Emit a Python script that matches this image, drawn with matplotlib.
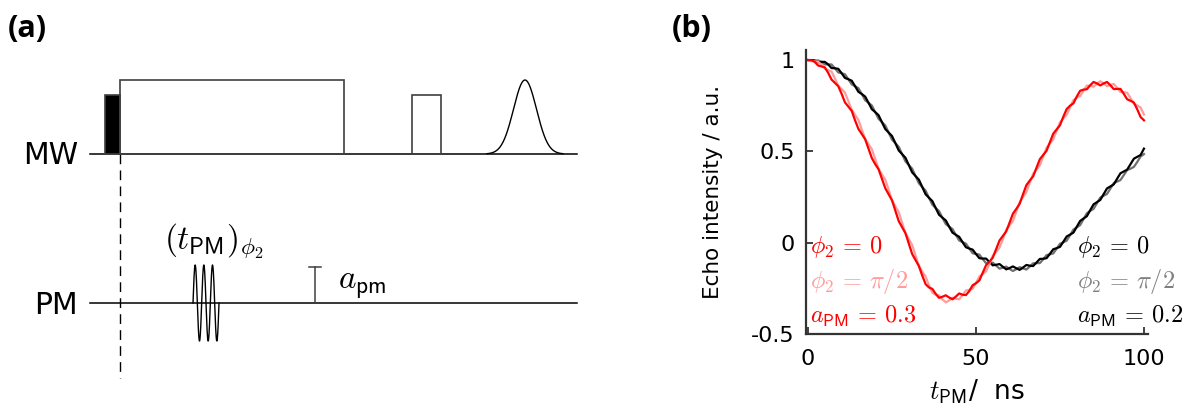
import matplotlib
matplotlib.use("Agg")
import matplotlib.pyplot as plt
import matplotlib.patches as mpatches
import numpy as np

plt.rcParams['mathtext.fontset'] = 'cm'
plt.rcParams['axes.unicode_minus'] = False
plt.rcParams['font.family'] = ['DejaVu Sans']

# ---------------- panel (b) data: echo intensity vs t_PM (ns) ----------------
t_pm = list(range(0, 101))

# a_PM = 0.3, phi2 = 0
red_phi0 = [
    1.000, 0.999, 0.990, 0.970, 0.965, 0.960, 0.930, 0.893, 0.875, 0.857,
    0.815, 0.768, 0.745, 0.722, 0.670, 0.623, 0.595, 0.567, 0.515, 0.463,
    0.430, 0.402, 0.350, 0.298, 0.265, 0.232, 0.175, 0.118, 0.085, 0.052,
    -0.005, -0.062, -0.095, -0.128, -0.180, -0.227, -0.245, -0.253, -0.280, -0.302,
    -0.296, -0.288, -0.300, -0.310, -0.295, -0.278, -0.285, -0.287, -0.265, -0.233,
    -0.222, -0.207, -0.165, -0.123, -0.105, -0.082, -0.035, 0.012, 0.037, 0.062,
    0.110, 0.159, 0.185, 0.213, 0.265, 0.315, 0.340, 0.363, 0.410, 0.457,
    0.480, 0.503, 0.550, 0.597, 0.620, 0.643, 0.690, 0.732, 0.750, 0.763,
    0.800, 0.832, 0.838, 0.840, 0.862, 0.880, 0.872, 0.861, 0.872, 0.880,
    0.862, 0.841, 0.842, 0.842, 0.815, 0.785, 0.777, 0.767, 0.730, 0.688,
    0.670,
]

# a_PM = 0.3, phi2 = pi/2
red_phi90 = [
    1.000, 0.994, 0.993, 0.991, 0.975, 0.952, 0.945, 0.937, 0.900, 0.860,
    0.842, 0.822, 0.775, 0.728, 0.700, 0.672, 0.620, 0.568, 0.540, 0.512,
    0.458, 0.404, 0.374, 0.344, 0.290, 0.233, 0.200, 0.167, 0.110, 0.053,
    0.020, -0.013, -0.070, -0.127, -0.158, -0.186, -0.233, -0.274, -0.285, -0.288,
    -0.310, -0.327, -0.316, -0.301, -0.307, -0.310, -0.287, -0.262, -0.258, -0.252,
    -0.220, -0.185, -0.172, -0.157, -0.115, -0.071, -0.050, -0.027, 0.020, 0.069,
    0.094, 0.120, 0.170, 0.222, 0.250, 0.278, 0.328, 0.377, 0.400, 0.424,
    0.472, 0.520, 0.543, 0.566, 0.613, 0.659, 0.680, 0.700, 0.742, 0.781,
    0.794, 0.803, 0.833, 0.860, 0.859, 0.854, 0.870, 0.884, 0.872, 0.857,
    0.864, 0.869, 0.848, 0.825, 0.824, 0.821, 0.792, 0.761, 0.752, 0.740,
    0.702,
]

# a_PM = 0.2, phi2 = 0
black_phi0 = [
    1.000, 1.000, 0.997, 0.988, 0.990, 0.990, 0.976, 0.956, 0.955, 0.952,
    0.928, 0.902, 0.895, 0.887, 0.857, 0.826, 0.814, 0.800, 0.766, 0.731,
    0.715, 0.698, 0.660, 0.622, 0.603, 0.584, 0.545, 0.505, 0.485, 0.465,
    0.425, 0.385, 0.365, 0.345, 0.305, 0.265, 0.246, 0.228, 0.190, 0.153,
    0.137, 0.122, 0.088, 0.055, 0.043, 0.032, 0.003, -0.025, -0.032, -0.038,
    -0.062, -0.085, -0.087, -0.087, -0.106, -0.124, -0.121, -0.117, -0.132, -0.146,
    -0.139, -0.130, -0.140, -0.149, -0.136, -0.122, -0.126, -0.128, -0.109, -0.089,
    -0.088, -0.085, -0.061, -0.036, -0.030, -0.023, 0.005, 0.034, 0.044, 0.055,
    0.087, 0.119, 0.132, 0.145, 0.178, 0.210, 0.222, 0.234, 0.266, 0.297,
    0.308, 0.319, 0.350, 0.380, 0.390, 0.400, 0.430, 0.460, 0.470, 0.480,
    0.515,
]

# a_PM = 0.2, phi2 = pi/2
gray_phi90 = [
    1.000, 0.997, 0.997, 0.998, 0.990, 0.976, 0.976, 0.976, 0.955, 0.932,
    0.928, 0.922, 0.895, 0.867, 0.857, 0.846, 0.814, 0.780, 0.766, 0.751,
    0.715, 0.678, 0.660, 0.642, 0.603, 0.564, 0.545, 0.525, 0.485, 0.445,
    0.425, 0.405, 0.365, 0.325, 0.305, 0.285, 0.246, 0.208, 0.190, 0.173,
    0.137, 0.102, 0.088, 0.075, 0.043, 0.012, 0.003, -0.005, -0.032, -0.058,
    -0.062, -0.065, -0.090, -0.112, -0.111, -0.109, -0.126, -0.142, -0.137, -0.131,
    -0.144, -0.155, -0.145, -0.134, -0.141, -0.147, -0.131, -0.113, -0.112, -0.112,
    -0.091, -0.068, -0.064, -0.059, -0.033, -0.006, 0.002, 0.011, 0.041, 0.072,
    0.084, 0.096, 0.129, 0.161, 0.174, 0.185, 0.216, 0.247, 0.257, 0.267,
    0.296, 0.326, 0.334, 0.343, 0.370, 0.398, 0.405, 0.415, 0.442, 0.472,
    0.485,
]

yticks = [-0.5, 0, 0.5, 1]
ytick_labels = ['-0.5', '0', '0.5', '1']
xticks = [0, 50, 100]

# ---------------- panel (a) data: pulse sequence schematic ----------------
# x in schematic units (left part of figure), amplitudes above each baseline
mw_pulse_start = [105, 120, 412]
mw_pulse_stop = [120, 344, 441]
mw_pulse_amp = [59, 74, 59]
mw_pulse_fill = ['black', 'none', 'none']
echo_center, echo_amp, echo_sigma = 525, 74, 11.5
pm_pulse_start, pm_pulse_stop, pm_amp, pm_cycles = 193, 219, 38, 3
marker_x, marker_amp = 315, 36
seq_start, seq_stop = 90, 577
trigger_x = 120

fig = plt.figure(figsize=(11.86, 4.09), dpi=100)

# ---------- (a) ----------
axa = fig.add_axes([0, 0, 600 / 1186, 1])
axa.set_xlim(0, 600)
axa.set_ylim(0, 409)
axa.axis('off')

mw_y = 255
pm_y = 106
axa.plot([seq_start, seq_stop], [mw_y, mw_y], color='black', lw=1.1)
axa.plot([seq_start, seq_stop], [pm_y, pm_y], color='black', lw=1.1)
for x0, x1, a, fc in zip(mw_pulse_start, mw_pulse_stop, mw_pulse_amp, mw_pulse_fill):
    axa.add_patch(mpatches.Rectangle((x0, mw_y), x1 - x0, a, facecolor=fc,
                                     edgecolor='#404040', lw=1.2, zorder=3))
xe = np.linspace(echo_center - 3.3 * echo_sigma, echo_center + 3.3 * echo_sigma, 200)
axa.plot(xe, mw_y + echo_amp * np.exp(-0.5 * ((xe - echo_center) / echo_sigma) ** 2),
         color='black', lw=1.0)

xs = np.linspace(pm_pulse_start, pm_pulse_stop, 300)
axa.plot(xs, pm_y + pm_amp * np.sin(2 * np.pi * pm_cycles * (xs - pm_pulse_start)
                                      / (pm_pulse_stop - pm_pulse_start)),
         color='black', lw=1.0, zorder=4)
axa.plot([marker_x, marker_x], [pm_y, pm_y + marker_amp], color='#404040', lw=1.1)
axa.plot([marker_x - 6, marker_x + 6], [pm_y + marker_amp] * 2, color='#404040', lw=1.1)

axa.plot([trigger_x, trigger_x], [mw_y, 31], color='black', lw=1.0,
         ls=(0, (7, 4.5)))

axa.text(78, mw_y - 2, 'MW', fontsize=21.5, ha='right', va='center')
axa.text(78, pm_y - 2, 'PM', fontsize=21.5, ha='right', va='center')
axa.text(164, 168, r'$(t_{\mathsf{PM}})_{\phi_2}$', fontsize=24, ha='left', va='center')
axa.text(338, 124, r'$a_{\mathsf{pm}}$', fontsize=24, ha='left', va='center')
fig.text(8 / 1186, 1 - 14 / 409, '(a)', fontsize=22, fontweight='bold',
         family='Open Sans', ha='left', va='top')
fig.text(672 / 1186, 1 - 14 / 409, '(b)', fontsize=22, fontweight='bold',
         family='Open Sans', ha='left', va='top')

# ---------- (b) ----------
axb = fig.add_axes([806 / 1186, (409 - 334) / 409, 342 / 1186, 284 / 409])
axb.plot(t_pm, gray_phi90, color='#707070', lw=1.6)
axb.plot(t_pm, black_phi0, color='black', lw=1.6)
axb.plot(t_pm, red_phi90, color='#FF9C9C', lw=1.6)
axb.plot(t_pm, red_phi0, color='#FF0000', lw=1.6)

axb.set_xlim(-0.6, 101.2)
axb.set_ylim(-0.5, 1.055)
axb.set_xticks(xticks)
axb.set_yticks(yticks)
axb.set_yticklabels(ytick_labels)
for s in ['top', 'right']:
    axb.spines[s].set_visible(False)
for s in ['left', 'bottom']:
    axb.spines[s].set_color('#333333')
    axb.spines[s].set_linewidth(1.6)
axb.tick_params(direction='in', length=5, width=1.3, color='#333333', labelsize=16)
axb.tick_params(axis='x', pad=11)
axb.tick_params(axis='y', pad=8)
axb.set_ylabel('Echo intensity / a.u.', fontsize=15.5, labelpad=20)
axb.set_xlabel(r'$t_{\mathsf{PM}}$/  ns', fontsize=19, labelpad=6)

tx_kw = dict(fontsize=17.5, ha='left', va='baseline', clip_on=False)
axb.text(0.6, -0.056, r'$\phi_2\,=\,0$', color='#FF0000', **tx_kw)
axb.text(0.6, -0.25, r'$\phi_2\,=\,\pi/2$', color='#FF9C9C', **tx_kw)
axb.text(0.6, -0.44, r'$a_{\mathsf{PM}}\,=\,0.3$', color='#FF0000', **tx_kw)
axb.text(80.2, -0.056, r'$\phi_2\,=\,0$', color='black', **tx_kw)
axb.text(80.2, -0.25, r'$\phi_2\,=\,\pi/2$', color='#808080', **tx_kw)
axb.text(80.2, -0.44, r'$a_{\mathsf{PM}}\,=\,0.2$', color='black', **tx_kw)

fig.savefig('out.png', dpi=100)
